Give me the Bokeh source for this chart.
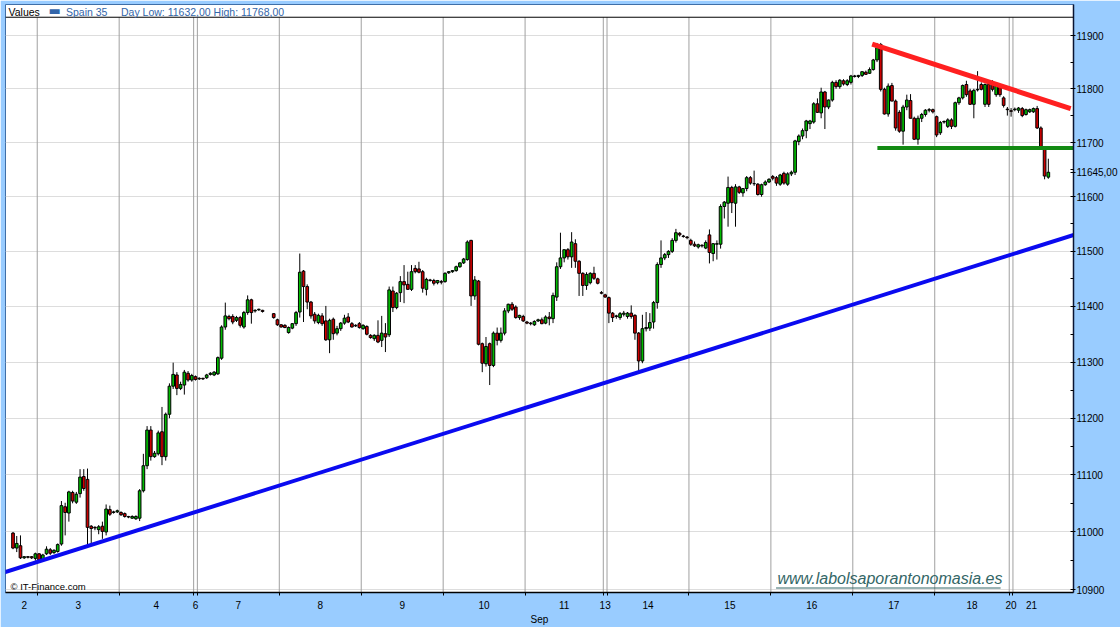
import math
from bokeh.plotting import figure
from bokeh.models import (FixedTicker, CustomJSTickFormatter, Label, Span,
                          ColumnDataSource, Range1d)
from bokeh.embed import file_html
from bokeh.resources import INLINE

# ---------------- data ----------------
instrument = "Spain 35"
month_label = "Sep"
day_labels = ["2", "3", "4", "6", "7", "8", "9", "10", "11", "13", "14", "15", "16", "17", "18", "20", "21"]
day_bar_counts = [7, 22, 20, 1, 22, 22, 22, 22, 21, 1, 22, 22, 22, 22, 20, 1, 10]

opens = [
    10998, 10972, 10976, 10955, 10957, 10957, 10954,
    10962, 10951, 10962, 10969, 10964, 10966, 10979, 11044, 11033, 11069, 11052, 11067, 11097, 11092, 11010, 11008, 11004, 11010, 11000, 11039, 11034, 11035,
    11034, 11032, 11027, 11024, 11023, 11024, 11072, 11116, 11179, 11132, 11137, 11176, 11132, 11207, 11257, 11277, 11253, 11259, 11280, 11268,
    11274,
    11270, 11271, 11272, 11278, 11277, 11279, 11307, 11363, 11382, 11382, 11375, 11380, 11363, 11389, 11412, 11392, 11394, 11393, None, None, 11387, 11376,
    11367, 11366, 11353, 11361, 11369, 11390, 11464, 11436, 11408, 11386, 11371, 11383, 11374, 11340, 11377, 11352, 11360, 11370, 11381, 11369, 11366, 11369,
    11360, 11364, 11348, 11342, 11348, 11339, 11351, 11349, 11428, 11398, 11425, 11445, 11440, 11431, 11469, 11468, 11463, 11431, 11448, 11447, 11443, 11445,
    11445, 11461, 11463, 11465, 11472, 11479, 11485, 11520, 11419, 11446, 11333, 11297, 11333, 11294, 11352, 11339, 11352, 11392, 11404, 11399, 11380, 11382,
    11372, 11370, 11367, 11374, 11376, 11370, 11381, 11378, 11417, 11472, 11488, 11503, 11490, 11514, 11482, 11460, 11438, 11443, 11460, 11450, 11425,
    11421,
    11416, 11388, 11382, 11380, 11386, 11382, 11388, 11384, 11352, 11302, 11360, 11361, 11372, 11407, 11476, 11488, 11494, 11500, 11520, 11533, 11528, 11526,
    11520, 11513, 11508, 11511, 11506, 11530, 11496, 11513, 11513, 11582, 11588, 11617, 11588, 11618, 11607, 11615, 11635, 11624, 11623, 11604, 11622, 11627,
    11637, 11635, 11623, 11643, 11623, 11642, 11645, 11702, 11712, 11722, 11735, 11738, 11772, 11755, 11794, 11766, 11779, 11812, 11804, 11815, 11808, 11812,
    11824, 11823, 11825, 11831, 11829, 11836, 11854, 11883, 11799, 11753, 11806, 11777, 11756, 11721, 11766, 11778, 11745, 11706, 11745, 11752, 11760, 11761,
    11748, 11718, 11738, 11730, 11742, 11730, 11774, 11783, 11808, 11796, 11771, 11798, 11808, 11771, 11808, 11808, 11789, 11803, 11783, 11762,
    11759,
    11761, 11760, 11763, 11752, 11757, 11757, 11763, 11727, 11689, 11636,
]
highs = [
    11000, 10993, 10994, 10958, 10958, 10958, 10964,
    10963, 10962, 10975, 10972, 10970, 10980, 11054, 11051, 11072, 11072, 11070, 11110, 11110, 11111, 11012, 11010, 11012, 11018, 11048, 11046, 11037, 11039,
    11036, 11034, 11028, 11029, 11029, 11075, 11137, 11186, 11186, 11142, 11178, 11220, 11210, 11262, 11299, 11282, 11265, 11286, 11284, 11279,
    11276,
    11273, 11272, 11279, 11282, 11284, 11310, 11366, 11407, 11385, 11386, 11383, 11383, 11392, 11420, 11414, 11395, 11396, 11394, None, None, 11388, 11378,
    11368, 11368, 11364, 11370, 11392, 11496, 11466, 11440, 11410, 11390, 11387, 11388, 11401, 11378, 11380, 11365, 11372, 11385, 11388, 11372, 11368, 11372,
    11368, 11366, 11350, 11350, 11375, 11383, 11370, 11436, 11436, 11426, 11455, 11475, 11463, 11475, 11475, 11481, 11466, 11452, 11450, 11450, 11448, 11448,
    11462, 11464, 11466, 11474, 11480, 11488, 11520, 11521, 11455, 11448, 11335, 11345, 11335, 11355, 11362, 11362, 11397, 11405, 11408, 11402, 11385, 11385,
    11374, 11372, 11375, 11378, 11380, 11384, 11390, 11425, 11480, 11534, 11495, 11506, 11535, 11522, 11484, 11462, 11462, 11462, 11472, 11452, 11428,
    11423,
    11418, 11390, 11385, 11390, 11392, 11390, 11402, 11386, 11354, 11385, 11390, 11388, 11410, 11480, 11520, 11497, 11502, 11524, 11541, 11535, 11530, 11528,
    11523, 11518, 11514, 11513, 11520, 11540, 11515, 11520, 11586, 11592, 11637, 11620, 11623, 11620, 11616, 11638, 11638, 11648, 11625, 11624, 11630, 11634,
    11640, 11638, 11642, 11646, 11645, 11648, 11705, 11715, 11726, 11742, 11742, 11775, 11782, 11802, 11796, 11780, 11815, 11816, 11818, 11818, 11818, 11826,
    11826, 11826, 11832, 11834, 11840, 11856, 11886, 11886, 11802, 11810, 11811, 11780, 11760, 11770, 11789, 11790, 11748, 11750, 11755, 11762, 11764, 11763,
    11750, 11740, 11741, 11745, 11745, 11776, 11785, 11808, 11815, 11800, 11800, 11833, 11812, 11810, 11812, 11816, 11806, 11808, 11786, 11766,
    11764,
    11765, 11766, 11766, 11763, 11763, 11765, 11768, 11730, 11692, 11670,
]
lows = [
    10970, 10965, 10953, 10953, 10954, 10953, 10950,
    10948, 10948, 10960, 10960, 10962, 10964, 10976, 10994, 11018, 11050, 11049, 11060, 11072, 10976, 10977, 11003, 10996, 10988, 10994, 11028, 11032, 11033,
    11028, 11025, 11024, 11023, 11021, 11019, 11069, 11110, 11125, 11130, 11134, 11117, 11125, 11200, 11252, 11241, 11250, 11242, 11265, 11265,
    11267,
    11268, 11268, 11270, 11276, 11275, 11277, 11304, 11358, 11375, 11368, 11372, 11362, 11360, 11385, 11369, 11389, 11392, 11389, None, None, 11378, 11365,
    11362, 11361, 11351, 11359, 11365, 11380, 11372, 11395, 11378, 11369, 11368, 11365, 11338, 11316, 11340, 11348, 11356, 11367, 11370, 11362, 11363, 11360,
    11358, 11348, 11342, 11338, 11334, 11327, 11318, 11345, 11390, 11395, 11408, 11406, 11430, 11428, 11460, 11460, 11425, 11420, 11445, 11438, 11440, 11440,
    11443, 11459, 11461, 11463, 11470, 11477, 11483, 11401, 11412, 11330, 11282, 11292, 11259, 11291, 11330, 11335, 11348, 11388, 11392, 11378, 11376, 11372,
    11368, 11366, 11365, 11372, 11368, 11368, 11366, 11370, 11410, 11468, 11480, 11485, 11470, 11470, 11419, 11419, 11430, 11440, 11448, 11440, 11422,
    11416,
    11370, 11372, 11378, 11376, 11382, 11378, 11378, 11340, 11283, 11298, 11355, 11356, 11360, 11396, 11470, 11484, 11488, 11497, 11516, 11527, 11525, 11522,
    11510, 11508, 11505, 11507, 11504, 11478, 11482, 11485, 11505, 11560, 11545, 11570, 11545, 11605, 11600, 11610, 11622, 11620, 11602, 11600, 11620, 11625,
    11630, 11620, 11620, 11622, 11620, 11638, 11640, 11695, 11706, 11708, 11725, 11735, 11755, 11745, 11725, 11762, 11776, 11800, 11800, 11806, 11805, 11808,
    11821, 11820, 11822, 11826, 11828, 11834, 11850, 11795, 11752, 11748, 11777, 11722, 11718, 11696, 11760, 11745, 11705, 11696, 11738, 11748, 11756, 11754,
    11710, 11714, 11735, 11727, 11725, 11728, 11770, 11780, 11785, 11770, 11745, 11795, 11797, 11766, 11766, 11795, 11785, 11785, 11765, 11750,
    11748,
    11758, 11755, 11747, 11750, 11755, 11755, 11725, 11688, 11632, 11633,
]
closes = [
    10972, 10980, 10955, 10957, 10956, 10955, 10962,
    10951, 10960, 10970, 10963, 10968, 10978, 11046, 11034, 11070, 11054, 11066, 11096, 11076, 11008, 11006, 11007, 11009, 11001, 11040, 11031, 11035, 11037,
    11030, 11027, 11026, 11027, 11027, 11072, 11116, 11179, 11132, 11138, 11174, 11132, 11207, 11257, 11278, 11253, 11260, 11282, 11268, 11276,
    11269,
    11271, 11270, 11277, 11280, 11282, 11308, 11363, 11383, 11378, 11372, 11380, 11366, 11389, 11412, 11389, 11393, 11395, 11391, None, None, 11380, 11367,
    11363, 11362, 11362, 11369, 11389, 11462, 11436, 11408, 11383, 11374, 11384, 11369, 11340, 11375, 11351, 11360, 11370, 11379, 11372, 11363, 11365, 11362,
    11366, 11350, 11344, 11348, 11336, 11352, 11345, 11430, 11398, 11424, 11445, 11439, 11431, 11463, 11463, 11462, 11433, 11449, 11447, 11442, 11447, 11444,
    11460, 11463, 11465, 11472, 11479, 11486, 11517, 11419, 11448, 11332, 11298, 11328, 11294, 11352, 11339, 11352, 11392, 11404, 11395, 11380, 11384, 11374,
    11370, 11369, 11373, 11376, 11369, 11381, 11378, 11420, 11472, 11488, 11503, 11490, 11517, 11482, 11460, 11438, 11458, 11460, 11451, 11442, 11424,
    11417,
    11388, 11380, 11383, 11387, 11388, 11388, 11382, 11352, 11302, 11360, 11362, 11371, 11407, 11476, 11488, 11494, 11500, 11520, 11534, 11530, 11527, 11525,
    11513, 11510, 11512, 11510, 11516, 11498, 11514, 11514, 11582, 11590, 11617, 11589, 11618, 11608, 11615, 11635, 11625, 11624, 11604, 11622, 11627, 11632,
    11634, 11625, 11640, 11625, 11642, 11645, 11703, 11712, 11722, 11740, 11740, 11772, 11756, 11794, 11766, 11779, 11812, 11804, 11816, 11809, 11815, 11824,
    11823, 11825, 11832, 11827, 11836, 11854, 11877, 11799, 11753, 11805, 11777, 11727, 11721, 11766, 11779, 11745, 11706, 11745, 11752, 11760, 11761, 11757,
    11714, 11737, 11739, 11742, 11730, 11774, 11783, 11806, 11789, 11771, 11797, 11799, 11799, 11808, 11771, 11799, 11805, 11789, 11769, 11761,
    11758,
    11762, 11764, 11750, 11761, 11761, 11763, 11727, 11690, 11638, 11645,
]

y_ticks = [10900, 11000, 11100, 11200, 11300, 11400, 11500, 11600, 11700, 11800, 11900]
y_minor_ticks = [10950, 11050, 11150, 11250, 11350, 11450, 11550, 11650, 11750, 11850]

# hand-drawn trend lines (bar index, price)
support_x = [-2.3, 285.3]
support_y = [10930, 11531]
resist_x = [230.7, 284.0]
resist_y = [11884, 11763]
level_x = [232.1, 285.5]
level_y = [11690, 11690]

# ---------------- layout constants ----------------
X_LO, X_HI = -2.02, 284.76
Y_LO, Y_HI = 10895, 11958.6
LEGEND_LINE = 11934.5
FONT = "Liberation Sans"
W, H = 1120, 627
B_LEFT, B_RIGHT, B_TOP, B_BOTTOM = 5, 45, 4, 35
FRAME_W = W - B_LEFT - B_RIGHT
FRAME_H = H - B_TOP - B_BOTTOM

n = sum(day_bar_counts)
assert all(len(a) == n for a in (opens, highs, lows, closes))

starts = []
acc = 0
for c in day_bar_counts:
    starts.append(acc)
    acc += c
separators = [s - 0.5 for s in starts[1:]]
centers = [s + c / 2 - 0.5 for s, c in zip(starts, day_bar_counts)]

xs, h_, l_, top, bot, fill = [], [], [], [], [], []
for i in range(n):
    if opens[i] is None:
        continue
    o, hh, ll, cc = opens[i], highs[i], lows[i], closes[i]
    xs.append(i)
    h_.append(max(hh, o, cc)); l_.append(min(ll, o, cc))
    top.append(max(o, cc)); bot.append(min(o, cc))
    fill.append("#00bb00" if cc >= o else "#cc0000")
src = ColumnDataSource(dict(x=xs, high=h_, low=l_, top=top, bottom=bot, fill=fill))

fmt = lambda v: f"{v:.2f}".replace(".", ",")
last_price = closes[-1]

p = figure(width=W, height=H,
           x_range=Range1d(X_LO, X_HI), y_range=Range1d(Y_LO, Y_HI),
           y_axis_type="log", y_axis_location="right",
           output_backend="svg", toolbar_location=None,
           min_border_left=B_LEFT, min_border_right=B_RIGHT,
           min_border_top=B_TOP, min_border_bottom=B_BOTTOM)
p.border_fill_color = "#99ccff"
p.background_fill_color = "white"
p.outline_line_color = "#3f6fa8"
p.outline_line_width = 1

# y axis (right) -- price ticks plus the last-price marker
ya = p.yaxis[0]
ya.ticker = FixedTicker(ticks=y_ticks + [last_price], minor_ticks=y_minor_ticks)
ya.formatter = CustomJSTickFormatter(
    args=dict(last=last_price, last_txt=fmt(last_price)),
    code="return Math.abs(tick - last) < 1e-6 ? last_txt : tick.toFixed(0);")
ya.axis_line_color = "#0a1433"
ya.axis_line_width = 1.5
ya.major_tick_in = 3
ya.major_tick_out = 2
ya.minor_tick_in = 3
ya.minor_tick_out = 0
ya.major_tick_line_color = "black"
ya.minor_tick_line_color = "black"
ya.major_label_standoff = 1
ya.major_label_text_font = FONT
ya.major_label_text_font_size = "10px"
ya.major_label_text_color = "black"
p.ygrid.ticker = FixedTicker(ticks=y_ticks)
p.ygrid.grid_line_color = "#dddddd"
p.xgrid.visible = False

# x axis (below)
xa = p.xaxis[0]
xa.ticker = FixedTicker(ticks=centers, minor_ticks=separators)
xa.formatter = CustomJSTickFormatter(
    args=dict(centers=centers, labels=day_labels),
    code="for (let i = 0; i < centers.length; i++) { if (Math.abs(centers[i] - tick) < 1e-6) return labels[i]; } return '';")
xa.major_tick_in = 0
xa.major_tick_out = 0
xa.minor_tick_in = 0
xa.minor_tick_out = 3
xa.minor_tick_line_color = "black"
xa.axis_line_color = "black"
xa.axis_line_width = 1.5
xa.major_label_standoff = 5
xa.major_label_text_font = FONT
xa.major_label_text_font_size = "10px"
xa.major_label_text_color = "black"
xa.axis_label = month_label
xa.axis_label_standoff = 2
xa.axis_label_text_font = FONT
xa.axis_label_text_font_size = "10px"
xa.axis_label_text_font_style = "normal"
xa.axis_label_text_color = "black"

# day separators and legend strip line
p.segment(x0=separators, y0=[Y_LO] * len(separators), x1=separators,
          y1=[LEGEND_LINE] * len(separators), line_color="#a0a0a0", line_width=1)
p.add_layout(Span(location=LEGEND_LINE, dimension="width", line_color="black", line_width=1))

# candles
p.segment(x0="x", y0="low", x1="x", y1="high", source=src, line_color="black", line_width=1)
p.vbar(x="x", width=0.72, top="top", bottom="bottom", source=src,
       fill_color="fill", line_color="black", line_width=1)

# trend lines
p.line(support_x, support_y, line_color="#0a0af0", line_width=4)
p.line(resist_x, resist_y, line_color="#ff2020", line_width=5)
p.line(level_x, level_y, line_color="#138a13", line_width=4)

# legend strip texts
last_day = slice(starts[-1], n)
day_low = min(v for v in lows[last_day] if v is not None)
day_high = max(v for v in highs[last_day] if v is not None)
legend_blue = "#3366aa"
p.add_layout(Label(x=X_LO, y=Y_HI, x_offset=3, y_offset=-7.3, text="Values",
                   text_font=FONT, text_font_size="10.5px", text_color="black",
                   text_baseline="middle"))
p.add_layout(Label(x=X_LO, y=Y_HI, x_offset=43, y_offset=-6.2, text="\u25ac",
                   text_font="DejaVu Sans", text_font_size="13px", text_color=legend_blue,
                   text_baseline="middle"))
p.add_layout(Label(x=X_LO, y=Y_HI, x_offset=60.5, y_offset=-7.3, text=instrument,
                   text_font=FONT, text_font_size="10.5px", text_color=legend_blue,
                   text_baseline="middle"))
p.add_layout(Label(x=X_LO, y=Y_HI, x_offset=115.5, y_offset=-7.3,
                   text=f"Day Low: {fmt(day_low)} High: {fmt(day_high)}",
                   text_font=FONT, text_font_size="10.5px", text_color=legend_blue,
                   text_baseline="middle"))

# copyright & watermark
p.add_layout(Label(x=X_LO, y=Y_LO, x_offset=5, y_offset=6.5, text="\u00a9 IT-Finance.com",
                   text_font=FONT, text_font_size="9.5px", text_color="black",
                   text_baseline="middle"))
p.add_layout(Label(x=X_LO, y=Y_LO, x_offset=772, y_offset=14, text="www.labolsaporantonomasia.es",
                   text_font=FONT, text_font_size="16px", text_font_style="italic",
                   text_color="#336666", text_baseline="middle"))
px_per_bar = FRAME_W / (X_HI - X_LO)
px_per_ln = FRAME_H / math.log(Y_HI / Y_LO)
ul_y = Y_LO * math.exp(4.5 / px_per_ln)
p.segment(x0=[X_LO + 772 / px_per_bar], y0=[ul_y], x1=[X_LO + 997 / px_per_bar], y1=[ul_y],
          line_color="#336666", line_width=1)

open("out.html", "w").write(file_html(p, INLINE))
